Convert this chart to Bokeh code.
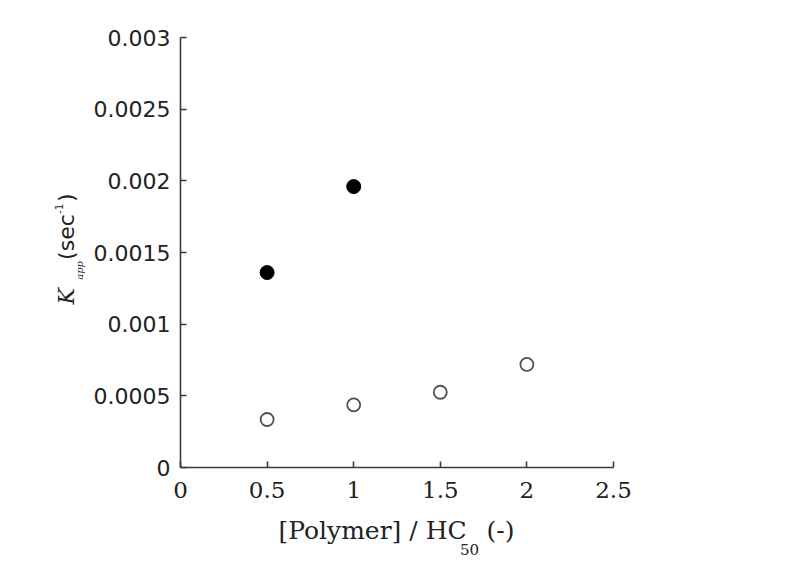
import math
from bokeh.plotting import figure
from bokeh.models import FixedTicker, Range1d
from bokeh.layouts import column, row
from bokeh.core.properties import value
from bokeh.embed import file_html
from bokeh.resources import INLINE

# ---- data ----
filled_x = [0.5, 1.0]
filled_y = [0.00136, 0.00196]
open_x = [0.5, 1.0, 1.5, 2.0]
open_y = [0.000335, 0.000437, 0.000525, 0.000719]

x_ticks = [0, 0.5, 1, 1.5, 2, 2.5]
x_tick_labels = ["0", "0.5", "1", "1.5", "2", "2.5"]
y_ticks = [0, 0.0005, 0.001, 0.0015, 0.002, 0.0025, 0.003]
y_tick_labels = ["0", "0.0005", "0.001", "0.0015", "0.002", "0.0025", "0.003"]

X0, X1 = 0.0, 2.5
Y0, Y1 = 0.0, 0.003

# page geometry
YW = 88            # width of the y-title strip
PH = 515           # height of main plot
XH = 60            # height of the x-title strip
FL, FR, FT, FB = 180, 613, 37, 467
PW = 692

p = figure(width=PW, height=PH, output_backend="svg", toolbar_location=None,
           title=None,
           x_range=Range1d(X0, X1), y_range=Range1d(Y0, Y1),
           min_border_left=FL - YW, min_border_right=PW + YW - FR,
           min_border_top=FT, min_border_bottom=PH - FB)
p.outline_line_color = None
p.xgrid.visible = False
p.ygrid.visible = False
p.background_fill_color = "white"
p.border_fill_color = "white"

axis_col = "#3a3a3a"
for ax in (p.xaxis[0], p.yaxis[0]):
    ax.axis_line_color = axis_col
    ax.axis_line_width = 1.6
    ax.major_tick_line_color = axis_col
    ax.major_tick_line_width = 1.6
    ax.major_tick_in = 6
    ax.major_tick_out = 0
    ax.minor_tick_line_color = None
    ax.major_label_text_color = "#222222"

p.xaxis.ticker = FixedTicker(ticks=x_ticks)
p.xaxis.major_label_overrides = {t: l for t, l in zip(x_ticks, x_tick_labels)}
p.xaxis.major_label_text_font = "DejaVu Serif"
p.xaxis.major_label_text_font_size = "23px"
p.xaxis.major_label_standoff = 14

p.yaxis.ticker = FixedTicker(ticks=y_ticks)
p.yaxis.major_label_overrides = {t: l for t, l in zip(y_ticks, y_tick_labels)}
p.yaxis.major_label_text_font = "DejaVu Sans"
p.yaxis.major_label_text_font_size = "22px"
p.yaxis.major_label_standoff = 10

p.scatter(open_x, open_y, size=13, marker="circle", fill_color="white",
          line_color="#505050", line_width=1.8)
p.scatter(filled_x, filled_y, size=14, marker="circle", fill_color="black",
          line_color="black", line_width=1)


def strip(w, h):
    f = figure(width=w, height=h, output_backend="svg", toolbar_location=None,
               title=None,
               x_range=Range1d(0, w), y_range=Range1d(0, h),
               x_axis_type=None, y_axis_type=None, min_border=0,
               min_border_left=0, min_border_right=0,
               min_border_top=0, min_border_bottom=0)
    f.outline_line_color = None
    f.xgrid.visible = False
    f.ygrid.visible = False
    f.background_fill_color = "white"
    f.border_fill_color = "white"
    return f


# y title strip: pieces placed by their centres (page coords)
yf = strip(YW, PH)
A = math.pi / 2


def ytxt(t, cx, cy, font, size, style="normal"):
    yf.text(x=[cx], y=[PH - cy], text=[t], angle=A, text_font=value(font),
            text_font_size=value(f"{size}px"), text_font_style=style,
            text_color="#222222", text_align="center", text_baseline="middle")


ytxt("K", 66, 310, "DejaVu Serif", 22, "italic")
ytxt("app", 79, 279, "DejaVu Serif", 10, "italic")
ytxt("(sec", 66, 239, "DejaVu Sans", 22)
ytxt("-1", 58, 205, "DejaVu Sans", 10)
ytxt(")", 66, 192, "DejaVu Sans", 22)

# x title strip: pieces placed by their centres (page coords)
TW = YW + PW
xf = strip(TW, XH)


def xtxt(t, cx, cy, font, size):
    xf.text(x=[cx], y=[XH - (cy - PH)], text=[t], text_font=value(font),
            text_font_size=value(f"{size}px"), text_color="#222222",
            text_align="center", text_baseline="middle")


xtxt("[Polymer] / HC", 372, 530, "DejaVu Serif", 25)
xtxt("50", 469, 549, "DejaVu Serif", 15)
xtxt("(-)", 500, 530, "DejaVu Serif", 25)

layout = column(row(yf, p, spacing=0), xf, spacing=0)
open("out.html", "w").write(file_html(layout, INLINE))
